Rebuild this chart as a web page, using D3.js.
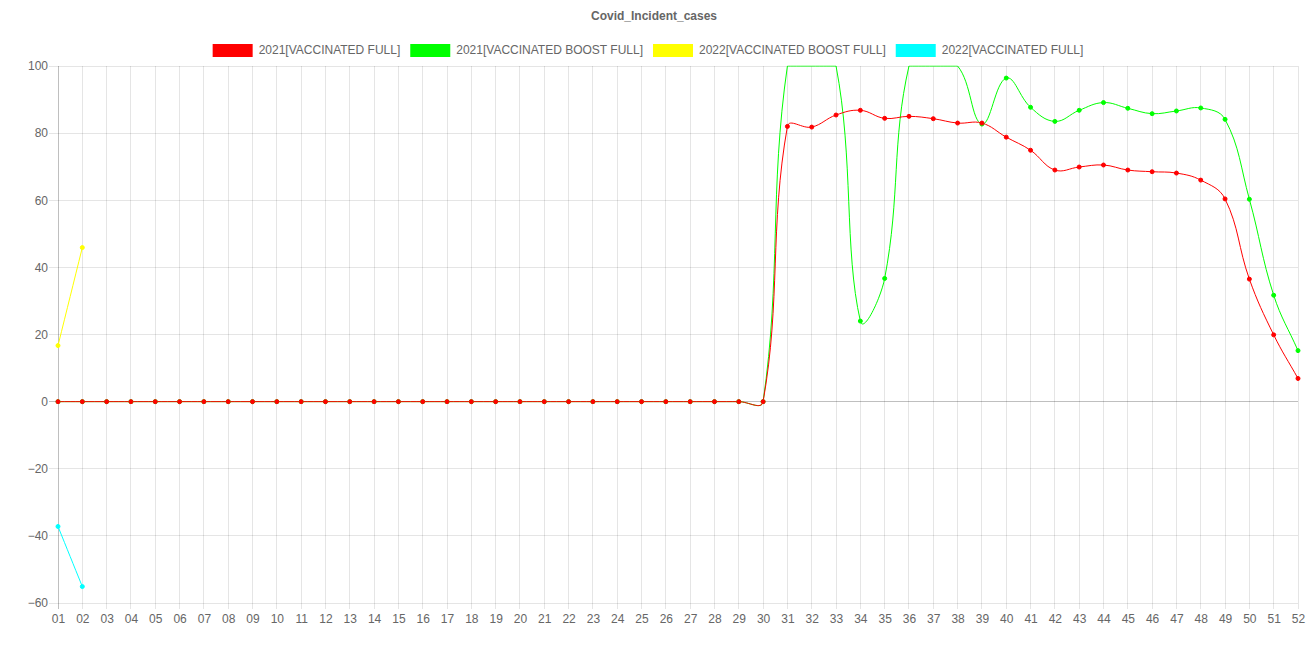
<!DOCTYPE html>
<html>
<head>
<meta charset="utf-8">
<script src="https://cdn.jsdelivr.net/npm/d3@7"></script>
<style>
  html, body { margin: 0; padding: 0; background: #fff; }
  svg { display: block; }
  text { font-family: "Liberation Sans", Arial, Helvetica, sans-serif; }
</style>
</head>
<body>
<svg id="chart" width="1308" height="654"></svg>
<script>
// ---------------- data ----------------
const weeks = ["01","02","03","04","05","06","07","08","09","10","11","12","13","14","15","16","17","18","19","20","21","22","23","24","25","26","27","28","29","30","31","32","33","34","35","36","37","38","39","40","41","42","43","44","45","46","47","48","49","50","51","52"];

const vaccinatedFull2021 = [0,0,0,0,0,0,0,0,0,0,0,0,0,0,0,0,0,0,0,0,0,0,0,0,0,0,0,0,0,0,
  82.0,81.8,85.4,86.8,84.4,85.0,84.3,83.0,83.0,78.8,74.9,69.0,69.9,70.5,69.0,68.5,68.1,66.0,60.4,36.5,19.9,6.9];

const vaccinatedBoostFull2021 = [0,0,0,0,0,0,0,0,0,0,0,0,0,0,0,0,0,0,0,0,0,0,0,0,0,0,0,0,0,0,
  100,100,100,24.0,36.7,100,100,100,82.7,96.4,87.7,83.5,86.8,89.1,87.4,85.8,86.6,87.5,84.1,60.3,31.7,15.2];

const vaccinatedBoostFull2022 = [16.7,45.9];
const vaccinatedFull2022 = [-37.2,-55.1];

const yTicks = [-60,-40,-20,0,20,40,60,80,100];

const seriesNames = ["2021[VACCINATED FULL]","2021[VACCINATED BOOST FULL]","2022[VACCINATED BOOST FULL]","2022[VACCINATED FULL]"];
const seriesColors = ["#ff0000","#00ff00","#ffff00","#00ffff"];
const seriesValues = [vaccinatedFull2021, vaccinatedBoostFull2021, vaccinatedBoostFull2022, vaccinatedFull2022];

const titleText = "Covid_Incident_cases";

// ---------------- layout ----------------
const W = 1308, H = 654;
const area = {left: 58, right: 1298, top: 66, bottom: 603};
const svg = d3.select("#chart");

const x = d3.scalePoint().domain(weeks).range([area.left, area.right]);
const y = d3.scaleLinear().domain([-60, 100]).range([area.bottom, area.top]);

// title
svg.append("text")
  .attr("x", W/2).attr("y", 17)
  .attr("text-anchor", "middle").attr("dominant-baseline", "middle")
  .attr("font-size", 12).attr("font-weight", "bold").attr("fill", "#666")
  .text(titleText);

// grid - vertical
const gridV = svg.append("g");
weeks.forEach((w, i) => {
  gridV.append("line")
    .attr("x1", x(w)).attr("x2", x(w))
    .attr("y1", area.top).attr("y2", area.bottom + 6)
    .attr("stroke", i === 0 ? "rgba(0,0,0,0.25)" : "rgba(0,0,0,0.1)")
    .attr("stroke-width", 1)
    .attr("shape-rendering", "crispEdges");
});
// grid - horizontal
yTicks.forEach(t => {
  svg.append("line")
    .attr("x1", area.left - 9).attr("x2", area.right)
    .attr("y1", y(t)).attr("y2", y(t))
    .attr("stroke", t === 0 ? "rgba(0,0,0,0.25)" : "rgba(0,0,0,0.1)")
    .attr("stroke-width", 1)
    .attr("shape-rendering", "crispEdges");
});

// axes via d3 axis generators (labels only)
const yAxis = d3.axisLeft(y).tickValues(yTicks).tickSize(0).tickPadding(10).tickFormat(d3.format("d"));
const gy = svg.append("g").attr("transform", `translate(${area.left},0)`).call(yAxis);
gy.select(".domain").remove();
gy.selectAll("text").attr("font-size", 12).attr("fill", "#666")
  .attr("font-family", "Liberation Sans, Arial, sans-serif");

const xAxis = d3.axisBottom(x).tickSize(0).tickPadding(10);
const gx = svg.append("g").attr("transform", `translate(0,${area.bottom + 1})`).call(xAxis);
gx.select(".domain").remove();
gx.selectAll("text").attr("font-size", 12).attr("fill", "#666")
  .attr("font-family", "Liberation Sans, Arial, sans-serif");

// clip
svg.append("clipPath").attr("id", "clip")
  .append("rect").attr("x", area.left - 1).attr("y", area.top - 0.5)
  .attr("width", area.right - area.left + 2).attr("height", area.bottom - area.top + 1);

// Chart.js style spline (tension 0.4, control points capped to chart area)
function splinePath(pts, tension) {
  const n = pts.length;
  const cps = pts.map((p, i) => {
    const prev = pts[Math.max(0, i - 1)], next = pts[Math.min(n - 1, i + 1)];
    const d01 = Math.hypot(p[0] - prev[0], p[1] - prev[1]);
    const d12 = Math.hypot(next[0] - p[0], next[1] - p[1]);
    let s01 = d01 / (d01 + d12), s12 = d12 / (d01 + d12);
    if (isNaN(s01)) s01 = 0; if (isNaN(s12)) s12 = 0;
    const fa = tension * s01, fb = tension * s12;
    const cap = (v, lo, hi) => Math.max(lo, Math.min(hi, v));
    return {
      px: cap(p[0] - fa * (next[0] - prev[0]), area.left, area.right),
      py: cap(p[1] - fa * (next[1] - prev[1]), area.top, area.bottom),
      nx: cap(p[0] + fb * (next[0] - prev[0]), area.left, area.right),
      ny: cap(p[1] + fb * (next[1] - prev[1]), area.top, area.bottom)
    };
  });
  const path = d3.path();
  path.moveTo(pts[0][0], pts[0][1]);
  for (let i = 1; i < n; i++) {
    path.bezierCurveTo(cps[i-1].nx, cps[i-1].ny, cps[i].px, cps[i].py, pts[i][0], pts[i][1]);
  }
  return path.toString();
}

const plot = svg.append("g").attr("clip-path", "url(#clip)");
// draw in reverse order so first dataset ends on top
for (let s = seriesValues.length - 1; s >= 0; s--) {
  const vals = seriesValues[s];
  const pts = vals.map((v, i) => [x(weeks[i]), y(v)]);
  plot.append("path")
    .attr("d", splinePath(pts, 0.4))
    .attr("fill", "none")
    .attr("stroke", seriesColors[s])
    .attr("stroke-width", 1);
  const g = svg.append("g");
  vals.forEach((v, i) => {
    // points touching the top edge of the plot are not drawn (as in the reference)
    if (v >= 100 || v <= -60) return;
    g.append("circle")
      .attr("cx", x(weeks[i])).attr("cy", y(v)).attr("r", 2)
      .attr("fill", seriesColors[s]).attr("stroke", seriesColors[s]).attr("stroke-width", 1);
  });
}

// legend
const legend = svg.append("g");
const tmp = svg.append("text").attr("font-size", 12);
const widths = seriesNames.map(nm => { tmp.text(nm); return tmp.node().getComputedTextLength(); });
tmp.remove();
const itemW = widths.map(w => 40 + 6 + w + 10);
const total = d3.sum(itemW);
let lx = (W - total) / 2 - 1;
seriesNames.forEach((nm, i) => {
  legend.append("rect").attr("x", lx).attr("y", 44).attr("width", 40).attr("height", 13)
    .attr("fill", seriesColors[i]);
  legend.append("text").attr("x", lx + 46).attr("y", 50.5)
    .attr("dominant-baseline", "middle").attr("font-size", 12).attr("fill", "#666")
    .text(nm);
  lx += itemW[i];
});
</script>
</body>
</html>
